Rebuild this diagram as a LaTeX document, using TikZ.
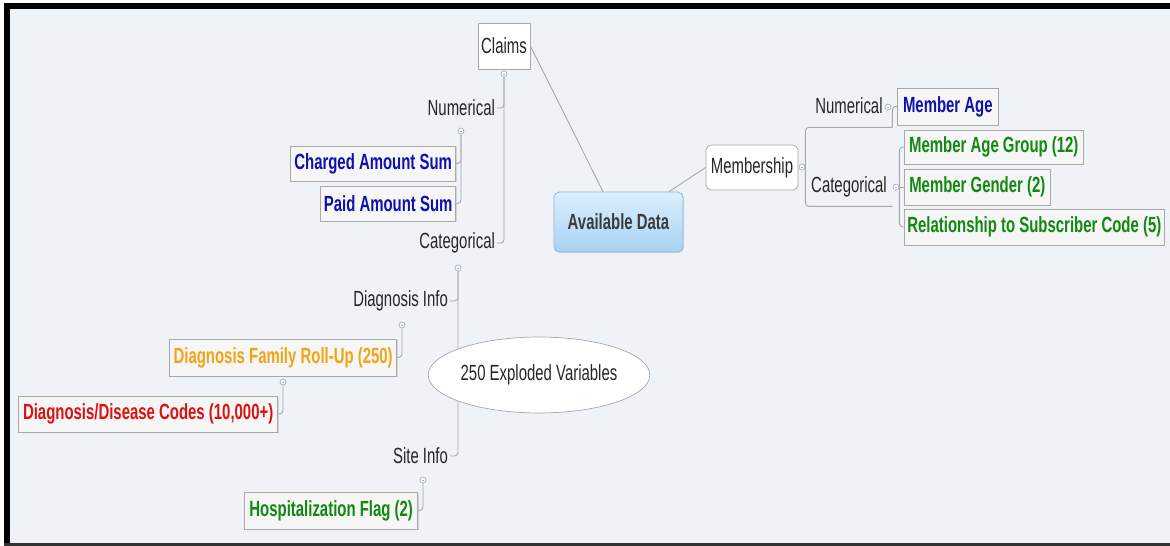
\documentclass[tikz,border=0pt]{standalone}
\usepackage{fontspec}
\setmainfont{Liberation Sans}[FakeStretch=0.68]
\usetikzlibrary{shapes.geometric,shadows}

\definecolor{bgpane}{HTML}{EFF2F6}
\definecolor{linegray}{HTML}{A3A8AE}
\definecolor{boxline}{HTML}{A8A8A8}
\definecolor{boxfill}{HTML}{F6F6F6}
\definecolor{markline}{HTML}{9DB3CC}
\definecolor{varblue}{HTML}{1010B0}
\definecolor{vargreen}{HTML}{118811}
\definecolor{varorange}{HTML}{F0A416}
\definecolor{varred}{HTML}{DD1111}
\definecolor{availtop}{HTML}{DDEFFC}
\definecolor{availbot}{HTML}{A6D3F4}
\definecolor{availline}{HTML}{86B4DA}
\definecolor{availtext}{HTML}{3C3C3C}

\tikzset{
  conn/.style={draw=linegray, line width=0.5pt, rounded corners=2pt},
  topic/.style={inner sep=1pt, font=\fontsize{12.5}{14}\selectfont, text=black!85},
  plainbox/.style={draw=boxline, fill=white, inner sep=1pt, font=\fontsize{12.5}{14}\selectfont, text=black!85},
  leaf/.style={draw=boxline, fill=boxfill, inner sep=1pt, minimum height=0.72cm,
    font=\fontsize{12.5}{14}\selectfont\bfseries,
    drop shadow={shadow xshift=0.6pt, shadow yshift=-0.6pt, opacity=0.25}},
  foldmark/.style={circle, draw=markline, fill=white, line width=0.4pt, inner sep=0pt, minimum size=0.12cm,
    path picture={\draw[markline, line width=0.3pt] ([xshift=-0.8pt]path picture bounding box.center) -- ([xshift=0.8pt]path picture bounding box.center);}},
}

\begin{document}
\begin{tikzpicture}[x=0.02cm, y=-0.02cm]
  \useasboundingbox (0,0) rectangle (1170,546);
  \fill[white] (0,0) rectangle (1170,546);
  \fill[bgpane] (7,6) rectangle (1170,546);
  \fill[black] (4,3) rectangle (1170,9);
  \fill[black] (4,3) rectangle (10,546);
  \fill[black!80] (4,543) rectangle (1170,546);

  \node[draw=availline, rounded corners=3pt, top color=availtop, bottom color=availbot,
    minimum width=2.58cm, minimum height=1.2cm, font=\fontsize{12.5}{14}\selectfont\bfseries,
    text=availtext, drop shadow={shadow xshift=0.6pt, shadow yshift=-0.6pt, opacity=0.2}] (avail) at (618.5,222) {Available Data};

  \node[plainbox, minimum width=1.04cm, minimum height=0.92cm] (claims) at (504,46) {Claims};
  \node[foldmark] (mClaims) at (504,74) {};
  \node[topic, anchor=east] (numL) at (497,108) {Numerical};
  \node[topic, anchor=east] (catL) at (497,243) {Categorical};
  \node[foldmark] (mNumL) at (461,131) {};
  \node[leaf, text=varblue, anchor=east, minimum width=3.3cm, minimum height=0.7cm] (charged) at (456,163.5) {Charged Amount Sum};
  \node[leaf, text=varblue, anchor=east, minimum width=2.7cm, minimum height=0.7cm] (paid) at (456,203.5) {Paid Amount Sum};
  \node[foldmark] (mCatL) at (458,268) {};
  \node[topic, anchor=east] (diagInfo) at (450,301) {Diagnosis Info};
  \node[topic, anchor=east] (siteInfo) at (450,456) {Site Info};
  \node[foldmark] (mDiag) at (402,325) {};
  \node[leaf, text=varorange, anchor=east, minimum width=4.54cm, minimum height=0.74cm] (diagFam) at (397,357.5) {Diagnosis Family Roll-Up (250)};
  \node[foldmark] (mFam) at (283,382) {};
  \node[leaf, text=varred, anchor=east, minimum width=5.18cm] (diagCodes) at (278,414) {Diagnosis/Disease Codes (10,000+)};
  \node[foldmark] (mSite) at (423,480) {};
  \node[leaf, text=vargreen, anchor=east, minimum width=3.46cm, minimum height=0.74cm] (hosp) at (418,510.5) {Hospitalization Flag (2)};

  \node[plainbox, rounded corners=3pt, minimum width=1.84cm, minimum height=0.9cm] (member) at (752,167.5) {Membership};
  \node[foldmark] (mMem) at (802,167) {};
  \node[topic, minimum width=1.72cm, minimum height=0.84cm] (numR) at (849,106) {Numerical};
  \node[foldmark] (mNumR) at (888,107) {};
  \node[leaf, text=varblue, anchor=west, minimum width=2.02cm, minimum height=0.74cm] (memAge) at (897,106.5) {Member Age};
  \node[topic, minimum width=1.72cm, minimum height=0.76cm] (catR) at (849,187) {Categorical};
  \node[foldmark] (mCatR) at (896,187) {};
  \node[leaf, text=vargreen, anchor=west, minimum width=3.58cm, minimum height=0.68cm] (ageGrp) at (904,147) {Member Age Group (12)};
  \node[leaf, text=vargreen, anchor=west, minimum width=2.92cm] (gender) at (904,187) {Member Gender (2)};
  \node[leaf, text=vargreen, anchor=west, minimum width=5.2cm] (relation) at (904,227) {Relationship to Subscriber Code (5)};

  \draw[conn] (claims.east) -- (avail.117);
  \draw[conn] (avail.31) -- (member.west);
  \draw[conn] (mClaims.south) |- (numL.east);
  \draw[conn] (mClaims.south) |- (catL.east);
  \draw[conn] (mNumL.south) |- (charged.east);
  \draw[conn] (mNumL.south) |- (paid.east);
  \draw[conn] (mCatL.south) |- (diagInfo.east);
  \draw[conn] (mCatL.south) |- (siteInfo.east);
  \draw[conn] (mDiag.south) |- (diagFam.east);
  \draw[conn] (mFam.south) |- (diagCodes.east);
  \draw[conn] (mSite.south) |- (hosp.east);
  \draw[conn] (mMem.east) |- (numR.south east);
  \draw[conn] (mMem.east) |- (catR.south east);
  \draw[conn] (numR.south east) |- (memAge.west);
  \draw[conn] (mCatR.east) |- (ageGrp.west);
  \draw[conn] (mCatR.east) -- (gender.west);
  \draw[conn] (mCatR.east) |- (relation.west);

  \node[ellipse, draw=boxline, fill=white, inner sep=0pt, minimum width=3.56cm, minimum height=1.52cm,
    font=\fontsize{12.5}{14}\selectfont, text=black!85] (exploded) at (539,375) {250 Exploded Variables};
\end{tikzpicture}
\end{document}
